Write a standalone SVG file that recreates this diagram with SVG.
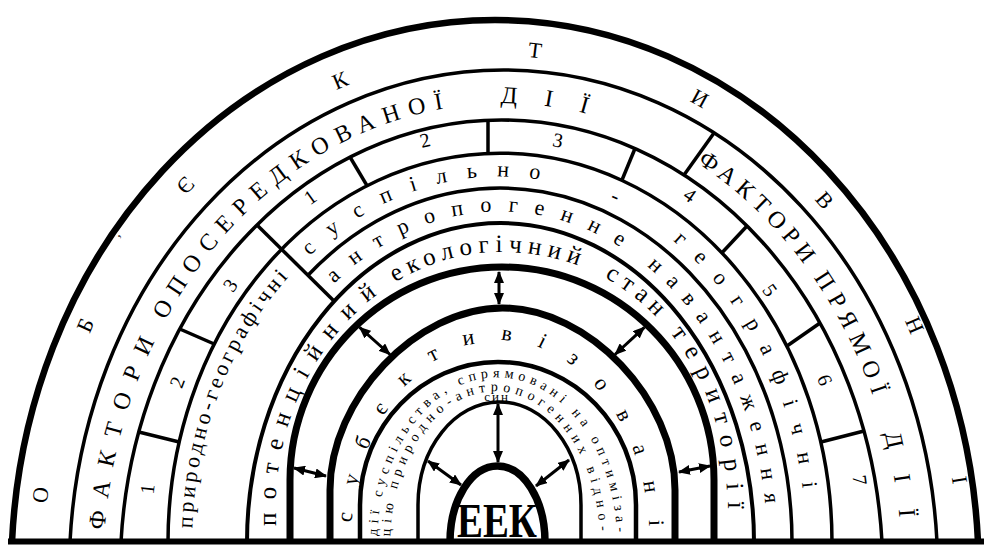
<svg xmlns="http://www.w3.org/2000/svg" width="984" height="545" viewBox="0 0 984 545">
<style>
.a{fill:none;stroke:#000}
.d{stroke:#000;stroke-width:3.5}
.t{font-family:"Liberation Serif","DejaVu Serif",serif;fill:#000}
.c{text-anchor:middle}
</style>
<defs>
<marker id="ah" markerUnits="userSpaceOnUse" markerWidth="12" markerHeight="10" refX="11" refY="5" orient="auto-start-reverse"><path d="M0,0 L12,5 L0,10 z" fill="#000"/></marker>
<path id="p2" d="M95.5,542 A407.76,476 0 0 1 909.5,542"/>
<path id="p4" d="M188,542 A312,371.5 0 0 1 812,542"/>
<path id="p5" d="M227.5,542 A272.75,336.5 0 0 1 773,542"/>
<path id="p6" d="M268.5,542 L268.5,511 C268.5,364.3 372.95,245 501.25,245 C635,245 734.5,355 734.5,511 L734.5,542"/>
<path id="p7" d="M345,542 A155.25,207 0 0 1 655.5,542"/>
<path id="p8a" d="M373,542 A124,169 0 0 1 621,542"/>
<path id="p8b" d="M386,542 A109,155 0 0 1 604,542"/>
<path id="p9" d="M186,542 A314,371 0 0 1 814,542"/>
</defs>
<rect width="984" height="545" fill="#fff"/>
<g id="arcs">
<path class="a" stroke-width="6.5" d="M12,542 A483.67,551 0 0 1 978,542"/>
<path class="a" stroke-width="3.5" d="M70,542 A434.23,501 0 0 1 937,542"/>
<path class="a" stroke-width="3.5" d="M121,542 A381.29,451 0 0 1 882,542"/>
<path class="a" stroke-width="3.5" d="M168,542 A332,389 0 0 1 832,542"/>
<path class="a" stroke-width="3.5" d="M308,275.3 A292,354 0 0 1 792,542"/>
<path class="a" stroke-width="4" d="M247,542 A253.5,319 0 0 1 754,542"/>
<path class="a" stroke-width="7" d="M290,542 L290,480 C290,362.8 385.4,267 502,267 C618.6,267 714,362.8 714,480 L714,542"/>
<path class="a" stroke-width="7" d="M330,542 L330,490 C330,399 416.25,308 502.5,308 C588.75,308 675,399 675,490 L675,542"/>
<path class="a" stroke-width="4.5" d="M360,542 L360,505 C360,426.3 422.1,362 498,362 C573.9,362 636,426.3 636,505 L636,542"/>
<path class="a" stroke-width="3.5" d="M418,542 L418,505 C418,448 454.7,402 499.5,402 C544.3,402 581,448 581,505 L581,542"/>
<line x1="8" y1="541.5" x2="984" y2="541.5" stroke="#000" stroke-width="6"/>
</g>
<g id="dividers">
<line class="d" x1="714" y1="133" x2="684" y2="175"/>
<line class="d" x1="138.8" y1="432" x2="179.2" y2="442"/>
<line class="d" x1="179.8" y1="329" x2="214.2" y2="344"/>
<line class="d" x1="257" y1="225" x2="334" y2="301"/>
<line class="d" x1="350" y1="157" x2="367" y2="185.6"/>
<line class="d" x1="488" y1="120.3" x2="488" y2="153.3"/>
<line class="d" x1="635" y1="148.5" x2="622" y2="180"/>
<line class="d" x1="747" y1="226" x2="722" y2="252.7"/>
<line class="d" x1="820" y1="323" x2="787" y2="346"/>
<line class="d" x1="864" y1="431" x2="821" y2="442"/>
</g>
<g id="connectors" stroke="#000" stroke-width="3" marker-start="url(#ah)" marker-end="url(#ah)">
<line x1="499" y1="272" x2="499" y2="304"/>
<line x1="359.6" y1="327.3" x2="390" y2="354.5"/>
<line x1="644.4" y1="327.3" x2="615" y2="354.5"/>
<line x1="294" y1="468" x2="326" y2="476"/>
<line x1="679" y1="472" x2="710" y2="466"/>
<line x1="498" y1="404" x2="498" y2="462"/>
<line x1="428" y1="461" x2="461" y2="485"/>
<line x1="569" y1="460" x2="536" y2="486"/>
</g>
<g id="eek">
<path class="a" stroke-width="7.5" d="M450,542 A47.5,76 0 0 1 545,542"/>
<text class="t c" x="497" y="537" font-size="48" font-weight="bold" textLength="80" lengthAdjust="spacingAndGlyphs">ЕЕК</text>
</g>
<g id="ring1" class="t c" font-size="22">
<text transform="translate(40,495) rotate(-83)" dy="0.35em">О</text>
<text transform="translate(85,325) rotate(-66)" dy="0.35em">Б</text>
<text transform="translate(122,238) rotate(-56)" dy="0.35em" font-size="14">’</text>
<text transform="translate(185,185) rotate(-47)" dy="0.35em">Є</text>
<text transform="translate(340,80) rotate(-23)" dy="0.35em">К</text>
<text transform="translate(535,50) rotate(7)" dy="0.35em">Т</text>
<text transform="translate(700,98) rotate(29)" dy="0.35em">И</text>
<text transform="translate(825,200) rotate(49)" dy="0.35em">В</text>
<text transform="translate(915,325) rotate(66.5)" dy="0.35em">Н</text>
<text transform="translate(960,480) rotate(81)" dy="0.35em">І</text>
</g>
<g id="ring2" class="t" font-size="24">
<text dy="0.35em"><textPath href="#p2" startOffset="13" style="letter-spacing:14.3px">ФАКТОРИ</textPath></text>
<text dy="0.35em"><textPath href="#p2" startOffset="236.2" style="letter-spacing:9.6px">ОПОСЕРЕДКОВАНОЇ</textPath></text>
<text dy="0.35em"><textPath href="#p2" startOffset="664.5" style="letter-spacing:27.9px">ДІЇ</textPath></text>
<text dy="0.35em"><textPath href="#p2" startOffset="877" style="letter-spacing:6.3px">ФАКТОРИ</textPath></text>
<text dy="0.35em"><textPath href="#p2" startOffset="1045" style="letter-spacing:8.4px">ПРЯМОЇ</textPath></text>
<text dy="0.35em"><textPath href="#p2" startOffset="1220" style="letter-spacing:27px">ДІЇ</textPath></text>
</g>
<g id="ring3" class="t c" font-size="20">
<text transform="translate(147,489) rotate(-83.4)" dy="0.35em">1</text>
<text transform="translate(177,382) rotate(-69.1)" dy="0.35em">2</text>
<text transform="translate(230,285) rotate(-53.8)" dy="0.35em">3</text>
<text transform="translate(310,197) rotate(-35.6)" dy="0.35em">1</text>
<text transform="translate(425,140) rotate(-13.7)" dy="0.35em">2</text>
<text transform="translate(558,140) rotate(10.5)" dy="0.35em">3</text>
<text transform="translate(690,195) rotate(35.2)" dy="0.35em">4</text>
<text transform="translate(770,290) rotate(54.2)" dy="0.35em">5</text>
<text transform="translate(825,380) rotate(68.9)" dy="0.35em">6</text>
<text transform="translate(860,480) rotate(82.4)" dy="0.35em">7</text>
</g>
<g id="ring4" class="t" font-size="22">
<text dy="0.28em"><textPath href="#p4" startOffset="321.6" style="letter-spacing:20.6px">суспільно</textPath></text>
<text dy="0.28em"><textPath href="#p4" startOffset="653">-</textPath></text>
<text dy="0.28em"><textPath href="#p4" startOffset="730.2" style="letter-spacing:18.2px">географічні</textPath></text>
<text dy="0.28em"><textPath href="#p9" startOffset="14" style="letter-spacing:3.8px">природно-географічні</textPath></text>
</g>
<g id="ring5" class="t" font-size="22">
<text dy="0.28em"><textPath href="#p5" startOffset="289.4" style="letter-spacing:17.5px">антропогенне</textPath></text>
<text dy="0.28em"><textPath href="#p5" startOffset="643.7" style="letter-spacing:13.2px">навантаження</textPath></text>
</g>
<g id="ring6" class="t" font-size="25">
<text dy="0.28em"><textPath href="#p6" startOffset="16" style="letter-spacing:13.4px">потенційний</textPath></text>
<text dy="0.28em"><textPath href="#p6" startOffset="307.5" style="letter-spacing:6.7px">екологічний</textPath></text>
<text dy="0.28em"><textPath href="#p6" startOffset="534" style="letter-spacing:6.8px">стан</textPath></text>
<text dy="0.28em"><textPath href="#p6" startOffset="623.5" style="letter-spacing:11.9px">території</textPath></text>
</g>
<g id="ring8" class="t" font-size="22">
<text dy="0.28em"><textPath href="#p7" startOffset="20" style="letter-spacing:27.8px">субєктивізовані</textPath></text>
</g>
<g id="ring9" class="t" font-size="14">
<text dy="0.3em"><textPath href="#p8a" startOffset="6.2" style="letter-spacing:5.3px">дії суспільства, спрямовані на оптиміза-</textPath></text>
<text dy="0.3em"><textPath href="#p8b" startOffset="6" style="letter-spacing:5.7px">цію природно-антропогенних відно-</textPath></text>
<text class="c" x="497" y="400.5" font-size="13" style="letter-spacing:2px">син</text>
</g>
</svg>
